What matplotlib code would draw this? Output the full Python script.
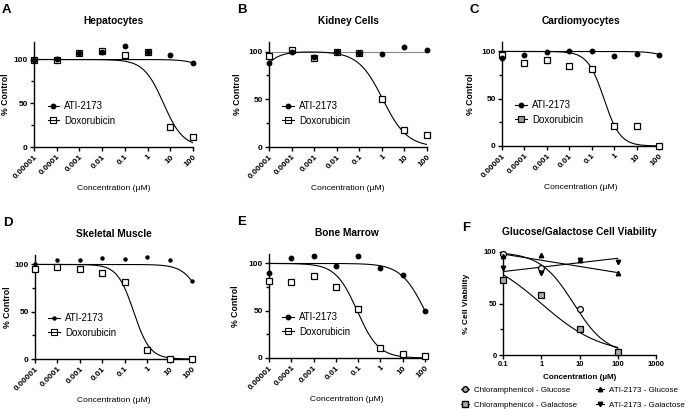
import numpy as np
import matplotlib
matplotlib.use('Agg')
import matplotlib.pyplot as plt
from matplotlib.lines import Line2D

plt.rcParams['font.family'] = ['Liberation Sans', 'DejaVu Sans']

# concentrations (uM) used in panels A-E
conc = [0.00001, 0.0001, 0.001, 0.01, 0.1, 1, 10, 100]
conc_labels = ['0.00001', '0.0001', '0.001', '0.01', '0.1', '1', '10', '100']

titles = ['Hepatocytes', 'Kidney Cells', 'Cardiomyocytes', 'Skeletal Muscle', 'Bone Marrow']
letters = ['A', 'B', 'C', 'D', 'E']

ati_hep = [99, 101, 107, 109, 116, 109, 105, 96]
dox_hep = [99, 100, 107, 110, 105, 109, 23, 12]
ati_kid = [88, 100, 94, 100, 99, 97, 105, 102]
dox_kid = [95, 102, 93, 100, 98, 50, 18, 13]
ati_car = [93, 96, 99, 101, 100, 95, 97, 96]
dox_car = [96, 88, 91, 85, 81, 21, 21, 0]
ati_ske = [100, 105, 105, 107, 106, 108, 105, 82]
dox_ske = [95, 97, 95, 91, 81, 10, 0, 0]
ati_bm = [90, 106, 108, 97, 108, 95, 88, 50]
dox_bm = [81, 80, 87, 75, 52, 11, 4, 2]

ati_all = [ati_hep, ati_kid, ati_car, ati_ske, ati_bm]
dox_all = [dox_hep, dox_kid, dox_car, dox_ske, dox_bm]

# fitted curves: top, bottom, IC50, hill, rising EC (0 = none)
ati_fits = [[100, 0, 2400, 1, 0], [100, 100, 1, 1, 0], [100, 0, 3000, 1, 0],
            [100, 0, 455, 1, 0], [100, 0, 100, 0.8, 0]]
dox_fits = [[100, 0, 5, 1, 0], [100, 0, 1.1, 0.8, 1.4e-6], [100, 0, 0.35, 1.2, 0],
            [100, 0, 0.25, 1.2, 0], [100, 0, 0.09, 0.9, 0]]
y_max = [120, 110, 110, 110, 110]

# panel F
fconc = [0.1, 1, 10, 100]
chl_glu = [98, 84, 45, 3]
chl_gal = [73, 58, 25, 3]
ati_glu = [96, 97, 92, 80]
ati_gal = [84, 80, 92, 90]
chl_glu_fit = [100, 0, 7, 1, 0]
chl_gal_fit = [100, 0, 1, 0.55, 0]
# straight fits: value at 0.1, change per decade
ati_glu_lin = [98, -6.0]
ati_gal_lin = [81, 4.3]


def logistic(x, p):
    top, bottom, ic50, hill, rise = p
    y = bottom + (top - bottom) / (1 + (x / ic50) ** hill)
    if rise:
        y = y / (1 + rise / x)
    return y


W, H = 696, 409
fig = plt.figure(figsize=(W / 100, H / 100), dpi=100)

rects = [(34, 42, 193, 147), (269, 42, 427, 147), (502, 42, 659, 146),
         (35, 255, 192, 359), (269, 254, 425, 358)]
ylab_off = [24, 27, 27, 23, 29]


def make_ax(r):
    l, t, rr, b = r
    return fig.add_axes([l / W, 1 - b / H, (rr - l) / W, (b - t) / H])


def style(ax, fs):
    for s in ['top', 'right']:
        ax.spines[s].set_visible(False)
    for s in ['left', 'bottom']:
        ax.spines[s].set_linewidth(1.0)
    ax.tick_params(which='both', direction='out', width=1.0, length=3, labelsize=fs, pad=1.5)
    ax.tick_params(which='minor', length=2)


xs = np.logspace(-5, 2, 300)
for i in range(5):
    ax = make_ax(rects[i])
    style(ax, 6)
    ax.set_xscale('log')
    ax.set_xlim(1e-5, 100)
    ax.set_ylim(0, y_max[i])
    ati_ms = 2.2 if i == 3 else 3.2
    ati_col = '#888888' if i == 1 else 'black'
    ax.plot(xs, logistic(xs, ati_fits[i]), color=ati_col, lw=0.8)
    ax.plot(xs, logistic(xs, dox_fits[i]), color='black', lw=0.8)
    ax.plot(conc, dox_all[i], ls='none', marker='s', ms=4.6, mfc='white', mec='black',
            mew=0.9, clip_on=False, zorder=3)
    ax.plot(conc, ati_all[i], ls='none', marker='o', ms=ati_ms, color='black',
            clip_on=False, zorder=4)
    ax.set_xticks(conc)
    ax.minorticks_off()
    ax.set_xticklabels(conc_labels, rotation=45, ha='right', va='top',
                       rotation_mode='anchor', fontweight='bold')
    ax.set_yticks([0, 50, 100])
    ax.set_yticks([25, 75], minor=True)
    ax.set_yticklabels(['0', '50', '100'], fontweight='bold')
    ax.set_xlabel('Concentration (\u00b5M)', fontsize=6.1)
    ax.xaxis.set_label_coords(0.5, -0.4)
    ax.xaxis.label.set_va('center')
    ax.set_ylabel('% Control', fontsize=6.3, fontweight='bold')
    ax.yaxis.set_label_coords(-ylab_off[i] / ax.bbox.width, 0.5)
    ax.set_title(titles[i], fontsize=7.3, fontweight='bold', pad=13)
    sq_face = '#999999' if i == 2 else 'none'
    handles = [Line2D([], [], color='black', lw=0.8, marker='o', ms=ati_ms),
               Line2D([], [], color='black', lw=0.8, marker='s', ms=4.2, mfc=sq_face,
                      mec='black', mew=0.8)]
    ax.legend(handles, ['ATI-2173', 'Doxorubicin'], loc='lower left',
              bbox_to_anchor=(0.03, 0.12), frameon=False, fontsize=7,
              handlelength=1.2, handletextpad=0.5, labelspacing=0.45)
    l, t = rects[i][0], rects[i][1]
    fig.text((l - 32) / W, 1 - (t - 32) / H, letters[i], fontsize=9.5,
             fontweight='bold', ha='left', va='center')

# panel F
axf = make_ax((503, 252, 656, 355))
style(axf, 5.5)
axf.set_xscale('log')
axf.set_xlim(0.1, 1000)
axf.set_ylim(0, 100)
fx = np.logspace(-1, 2, 200)
axf.plot(fx, logistic(fx, chl_glu_fit), color='black', lw=0.8)
axf.plot(fx, logistic(fx, chl_gal_fit), color='black', lw=0.8)
axf.plot(fx, ati_glu_lin[0] + ati_glu_lin[1] * (np.log10(fx) + 1), color='black', lw=0.8)
axf.plot(fx, ati_gal_lin[0] + ati_gal_lin[1] * (np.log10(fx) + 1), color='black', lw=0.8)
axf.plot(fconc, chl_glu, ls='none', marker='o', ms=4.2, mfc='white', mec='black',
         mew=0.9, clip_on=False, zorder=3)
axf.plot(fconc, chl_gal, ls='none', marker='s', ms=4.4, mfc='#aaaaaa', mec='black',
         mew=0.9, clip_on=False, zorder=3)
axf.plot(fconc, ati_glu, ls='none', marker='^', ms=3.2, color='black', clip_on=False, zorder=4)
axf.plot(fconc, ati_gal, ls='none', marker='v', ms=3.2, color='black', clip_on=False, zorder=4)
axf.set_xticks([0.1, 1, 10, 100, 1000])
axf.minorticks_off()
axf.set_xticklabels(['0.1', '1', '10', '100', '1000'], fontweight='bold')
axf.set_yticks([0, 50, 100])
axf.set_yticks([25, 75], minor=True)
axf.set_yticklabels(['0', '50', '100'], fontweight='bold')
axf.set_xlabel('Concentration (\u00b5M)', fontsize=5.8, fontweight='bold')
axf.xaxis.set_label_coords(0.5, -0.22)
axf.xaxis.label.set_va('center')
axf.set_ylabel('% Cell Viability', fontsize=6.0, fontweight='bold')
axf.yaxis.set_label_coords(-33 / axf.bbox.width, 0.5)
axf.set_title('Glucose/Galactose Cell Viability', fontsize=7.3, fontweight='bold', pad=12)
fh = [Line2D([], [], color='black', lw=0.8, marker='o', ms=4, mfc='#aaaaaa', mec='black'),
      Line2D([], [], color='black', lw=0.8, marker='s', ms=4, mfc='#aaaaaa', mec='black'),
      Line2D([], [], color='black', lw=0.8, marker='^', ms=3.2),
      Line2D([], [], color='black', lw=0.8, marker='v', ms=3.2)]
axf.legend(fh, ['Chloramphenicol - Glucose', 'Chloramphenicol - Galactose',
                'ATI-2173 - Glucose', 'ATI-2173 - Galactose'],
           loc='upper left', bbox_to_anchor=(-0.295, -0.27), ncol=2, frameon=False,
           fontsize=5.8, handlelength=1.0, handletextpad=0.6, columnspacing=2.3,
           labelspacing=0.95, borderaxespad=0)
fig.text(462 / W, 1 - 228 / H, 'F', fontsize=9.5, fontweight='bold', ha='left', va='center')

fig.savefig('out.png', dpi=100)
